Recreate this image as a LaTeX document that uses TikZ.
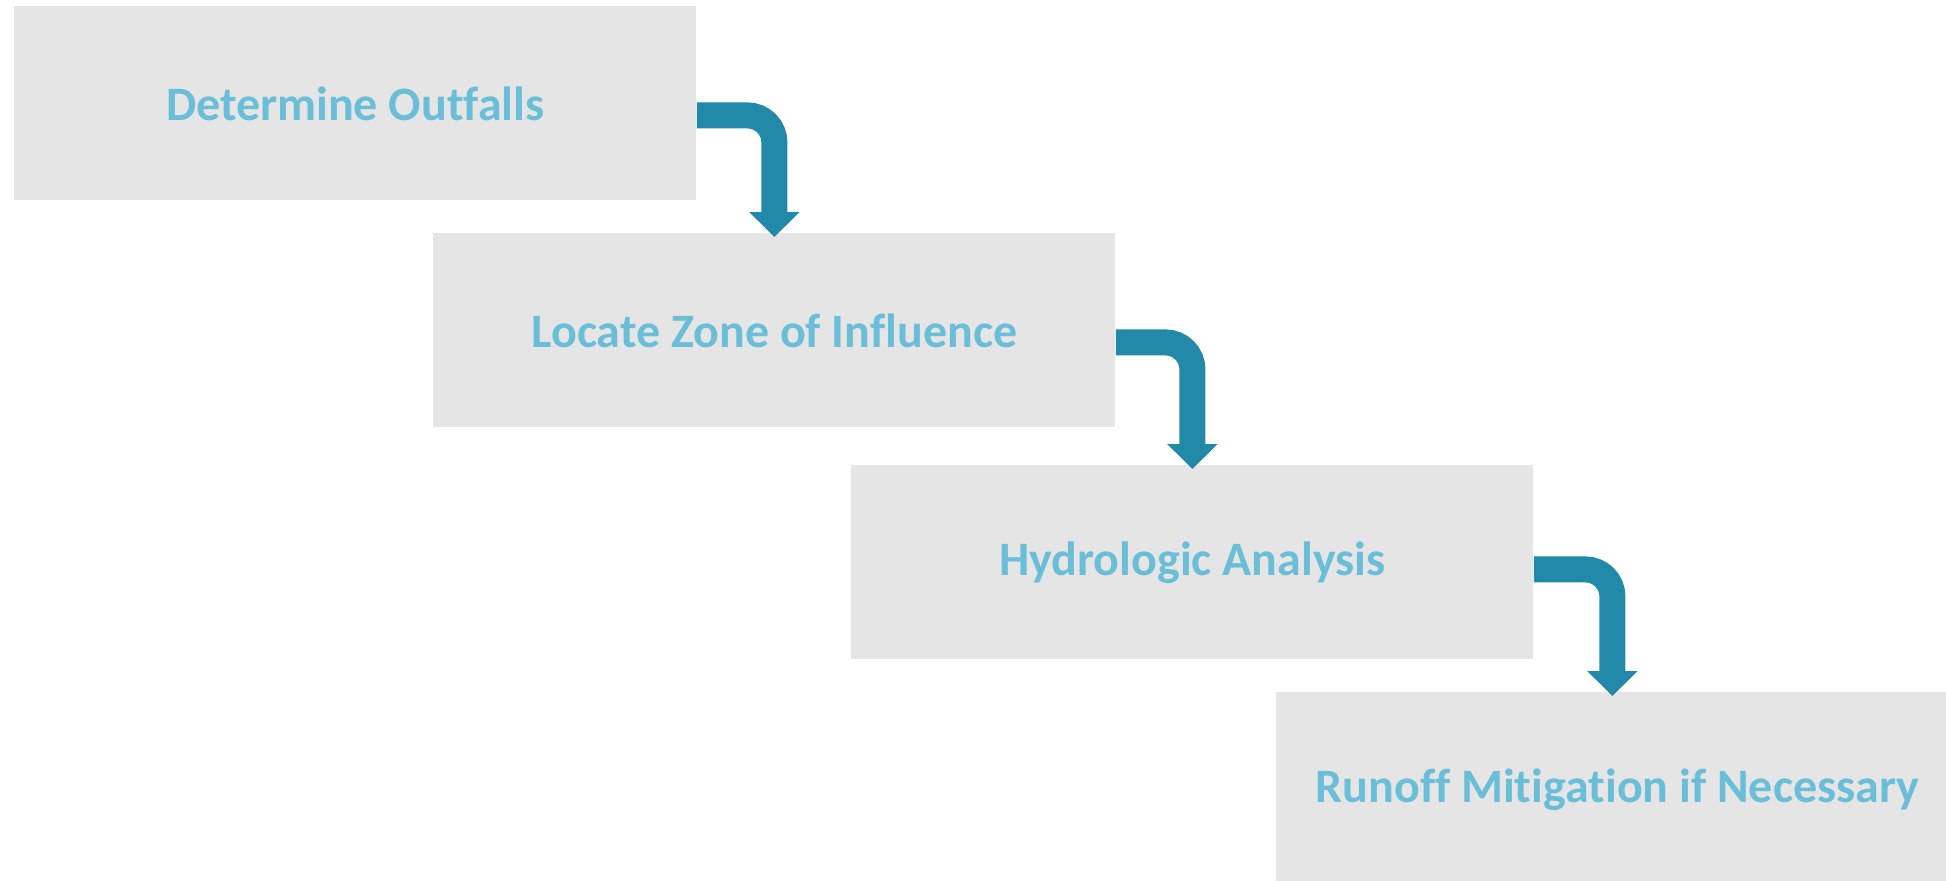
\documentclass[tikz,border=0pt]{standalone}
\usepackage{fontspec}
\setmainfont{Carlito}[Ligatures=NoCommon]
\usetikzlibrary{arrows.meta}

\definecolor{boxgray}{HTML}{E5E5E5}
\definecolor{steptext}{HTML}{6BBED8}
\definecolor{flowblue}{HTML}{2289A8}

\tikzset{
	stepbox/.style={fill=boxgray, anchor=north west, inner sep=0pt,
		minimum width=341pt, minimum height=97pt, text=steptext,
		font=\fontsize{24pt}{29pt}\selectfont\bfseries},
	flow/.style={draw=flowblue, line width=13pt, rounded corners=13.5pt,
		-{Triangle[width=24.5pt,length=12.5pt]}}
}

\begin{document}
\begin{tikzpicture}[x=0.5pt,y=-0.5pt]
		\useasboundingbox (0,0) rectangle (1946,880);
		\node[stepbox] (outfalls) at (14,6) {Determine Outfalls};
		\node[stepbox] (zone) at (433,233) {Locate Zone of Influence};
		\node[stepbox] (hydro) at (851,465) {Hydrologic Analysis};
		\node[stepbox] (runoff) at (1276,692) {Runoff Mitigation if Necessary};
		\draw[flow] ([yshift=-6pt]outfalls.east) -| ([yshift=-2pt]zone.north);
		\draw[flow] ([yshift=-6pt]zone.east) -| ([yshift=-2pt]hydro.north);
		\draw[flow] ([yshift=-3.5pt]hydro.east) -| ([xshift=-2.5pt,yshift=-2pt]runoff.north);
	\end{tikzpicture}
\end{document}
